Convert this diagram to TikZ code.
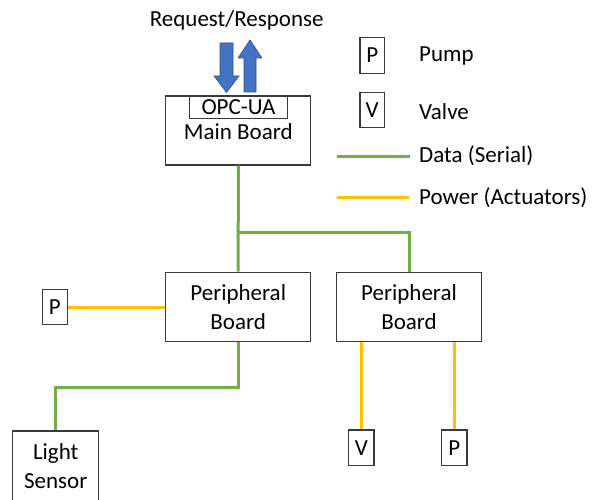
\documentclass[tikz,border=0pt]{standalone}
\usepackage{fontspec}
\setmainfont{Carlito}
\definecolor{datagreen}{HTML}{70AD47}
\definecolor{powerorange}{HTML}{FFC000}
\definecolor{arrowblue}{HTML}{4472C4}
\definecolor{arrowedge}{HTML}{2F528F}
\definecolor{boxline}{HTML}{3A3A3A}
\begin{document}
\begin{tikzpicture}[x=1pt,y=-1pt,
  every node/.style={font=\fontsize{23}{28.3}\selectfont, inner sep=0pt, align=center},
  board/.style={draw=boxline, line width=1.3pt, rectangle},
  data/.style={draw=datagreen, line width=3pt},
  power/.style={draw=powerorange, line width=3pt},
  blockarrow/.style={fill=arrowblue, draw=arrowedge, line width=0.6pt, line join=miter}]
\useasboundingbox (0,0) rectangle (594,500);
\clip (0,0) rectangle (594,500);
\fill[white] (0,0) rectangle (594,500);

% title
\node (req) at (236.7,20.7) {Request/Response};

% block arrows
\path[blockarrow] (220,43) -- (233,43) -- (233,76) -- (239,76) -- (226.5,92.5) -- (214,76) -- (220,76) -- cycle;
\path[blockarrow] (244,92) -- (256,92) -- (256,58) -- (262,58) -- (250,40) -- (238,58) -- (244,58) -- cycle;

% main board
\node[board, minimum width=145pt, minimum height=69pt] (mb) at (238.3,130.5) {};
\node (mbt) at (238.3,131.7) {Main Board};
\node[board, minimum width=98.4pt, minimum height=22.6pt] (opc) at (238.5,107) {OPC-UA};

% peripheral boards
\node[board, minimum width=145pt, minimum height=69.4pt] (pb1) at (238.2,307) {Peripheral\\Board};
\node[board, minimum width=144.6pt, minimum height=69pt] (pb2) at (409,307.2) {Peripheral\\Board};

% actuators and sensor
\node[board, minimum width=25pt, minimum height=35.4pt] (pl) at (54.8,307) {P};
\node[board, minimum width=86pt, minimum height=74pt] (ls) at (55.3,468) {};
\node (lst) at (55.7,466) {Light\\Sensor};
\node[board, minimum width=25.3pt, minimum height=35.7pt] (v) at (361.3,447.8) {V};
\node[board, minimum width=25.7pt, minimum height=35.7pt] (p2) at (454.2,447.8) {P};

% legend
\node[board, minimum width=24.3pt, minimum height=36pt] (lp) at (372.2,55.3) {P};
\node[board, minimum width=24.3pt, minimum height=35pt] (lv) at (372.2,110.2) {V};
\node[anchor=west] (lpt) at (419,56) {Pump};
\node[anchor=west] (lvt) at (419,111.7) {Valve};
\node[anchor=west] (ldt) at (419,156) {Data (Serial)};
\node[anchor=west] (lwt) at (419,197.7) {Power (Actuators)};
\coordinate (lda) at (336.7,156.7);
\coordinate (ldb) at (410,156.7);
\coordinate (lwa) at (336.7,197.7);
\coordinate (lwb) at (409,197.7);
\draw[data] (lda) -- (ldb);
\draw[power] (lwa) -- (lwb);

% data connectors
\coordinate (j) at (238.3,232.3);
\draw[data] (mb.south) -- (pb1.north);
\draw[data] (j) -| (pb2.north);
\draw[data] (pb1.south) -- ++(0,45) -| (ls.north);

% power connectors
\draw[power] (pl.east) -- (pb1.west);
\draw[power] (v.north) -- (v.north |- pb2.south);
\draw[power] (p2.north) -- (p2.north |- pb2.south);
\end{tikzpicture}
\end{document}
